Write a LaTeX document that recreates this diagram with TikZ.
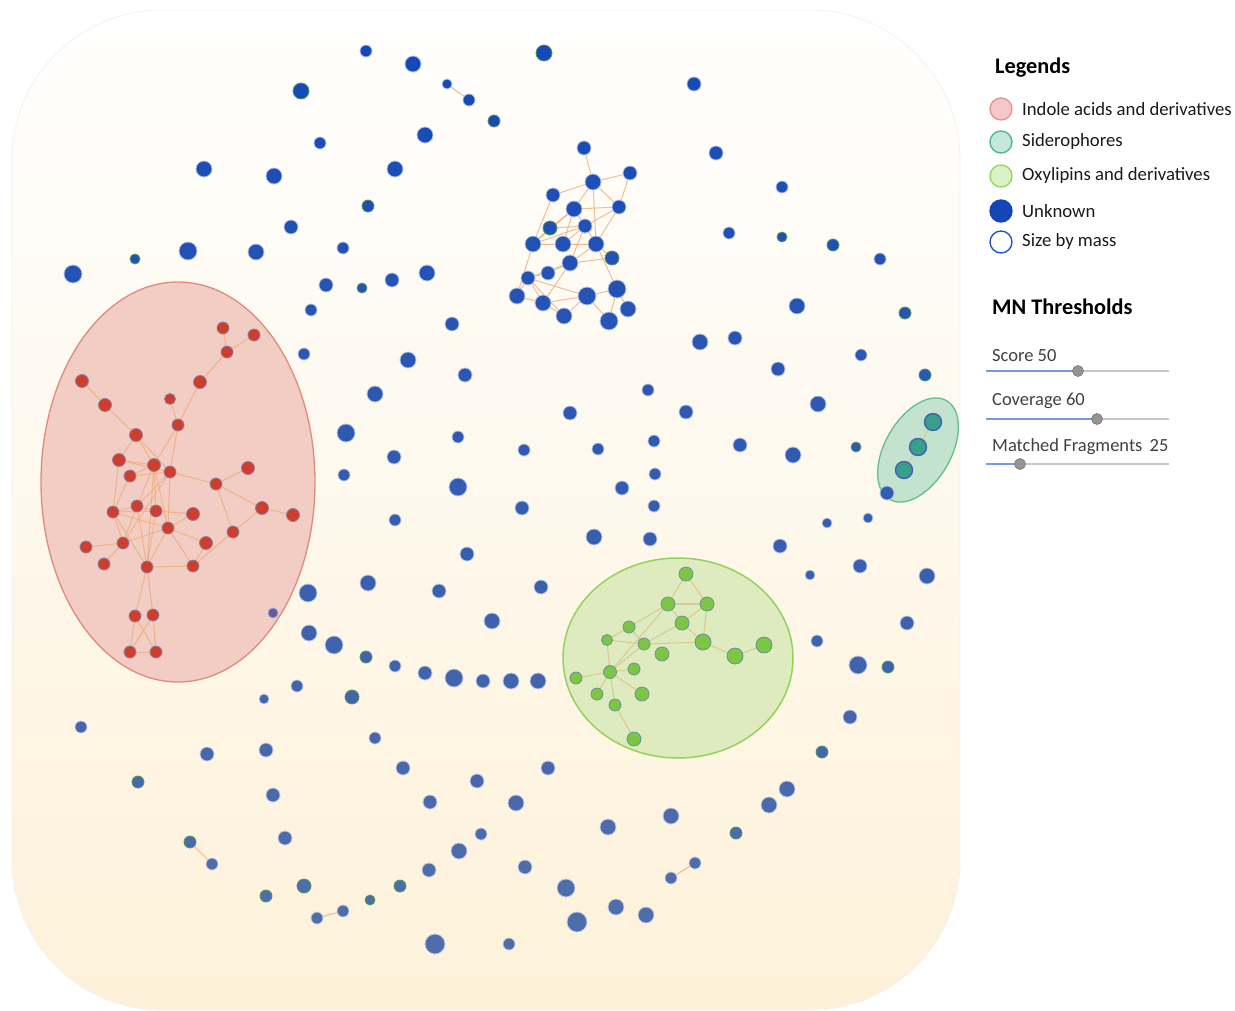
\documentclass[tikz,border=0pt]{standalone}
\usepackage{fontspec}
\setmainfont{Carlito}
\pgfdeclarelayer{bg}
\pgfdeclarelayer{edgelayer}
\pgfsetlayers{bg,edgelayer,main}
\definecolor{btop}{HTML}{1549B9}
\definecolor{bbot}{HTML}{4F6CAB}
\definecolor{rimg}{HTML}{4E9A52}
\definecolor{redfill}{HTML}{CF3E2C}
\definecolor{redrim}{HTML}{8E7FA5}
\definecolor{greenfill}{HTML}{7CC644}
\definecolor{greenrim}{HTML}{6A8FA0}
\definecolor{tealfill}{HTML}{3A9E8C}
\definecolor{tealrim}{HTML}{3E63AE}
\definecolor{bgtop}{HTML}{FFFFFF}
\definecolor{bgbot}{HTML}{FDF1D9}
\definecolor{edgeor}{HTML}{F0AE7C}
\definecolor{edgetan}{HTML}{D9C98E}
\definecolor{redell}{HTML}{F2CDC3}
\definecolor{redelldraw}{HTML}{E2887C}
\definecolor{grnell}{HTML}{DEEBBE}
\definecolor{grnelldraw}{HTML}{92D35B}
\definecolor{sidell}{HTML}{C4E3CF}
\definecolor{sidelldraw}{HTML}{5FC08E}
\definecolor{sliderblue}{HTML}{7898E2}
\tikzset{
  dot/.style={circle, inner sep=0pt, line width=0.8pt},
  rnode/.style={dot, fill=redfill, draw=redrim},
  gnode/.style={dot, fill=greenfill, draw=greenrim},
  snode/.style={dot, fill=tealfill, draw=tealrim, line width=1.4pt},
  redge/.style={draw=edgeor, line width=1pt, opacity=0.85},
  uedge/.style={draw=edgeor, line width=1pt, opacity=0.8},
  gedge/.style={draw=edgetan, line width=1.1pt, opacity=0.9},
  legtxt/.style={anchor=west, inner sep=0pt, font=\fontsize{18.7}{22}\selectfont, text=black!90},
  slidtxt/.style={anchor=west, inner sep=0pt, font=\fontsize{18.5}{22}\selectfont, text=black!75},
  legcirc/.style={circle, inner sep=0pt, minimum size=22pt, line width=1.4pt},
  knob/.style={circle, inner sep=0pt, minimum size=11pt, fill=black!42, draw=black!55, line width=0.6pt},
  title/.style={anchor=west, inner sep=0pt, font=\bfseries\fontsize{22.3}{26}\selectfont},
  bdot/.style={dot, fill=bbot!#1!btop, draw=bbot!#1!btop!35!white},
  bdotg/.style={dot, fill=bbot!#1!btop, draw=rimg}
}
\begin{document}
\begin{tikzpicture}[x=1pt,y=-1pt]
\useasboundingbox (0,0) rectangle (1235,1010);
\begin{pgfonlayer}{bg}
  \shade[top color=bgtop, bottom color=bgbot, rounded corners=150pt, draw=black!5, line width=0.8pt] (12,10) rectangle (960,1010);
  \draw[fill=redell, draw=redelldraw, line width=1.3pt] (178,482) ellipse [x radius=137, y radius=200];
  \draw[fill=grnell, draw=grnelldraw, line width=1.5pt] (678,658) ellipse [x radius=115, y radius=100];
  \begin{scope}[shift={(918,450)}, rotate=60]
    \draw[fill=sidell, draw=sidelldraw, line width=1.3pt] (0,0) ellipse [x radius=57, y radius=33];
  \end{scope}
\end{pgfonlayer}

% isolated / unknown nodes
\foreach \x/\y/\r/\g [count=\i] in {
366/51/6/0, 413/64/8/0, 544/53/8/1, 301/91/8/1, 494/121/6/1, 694/84/7/0,
320/143/6/0, 425/135/8/0, 204/169/8/0, 274/176/8/0, 395/169/8/0, 716/153/7/0,
368/206/6/1, 291/227/7/0, 782/187/6/0, 729/233/6/0, 782/237/5/1, 833/245/6/1,
880/259/6/0, 73/274/9/0, 135/259/5/1, 188/251/9/0, 256/252/8/0, 343/248/6/0,
326/285/7/0, 362/288/5/1, 392/280/7/0, 427/273/8/0, 311/310/6/0, 452/324/7/0,
797/306/8/0, 905/313/6/1, 700/342/8/0, 735/338/7/0, 861/355/6/0, 304/354/6/0,
408/360/8/0, 465/375/7/0, 925/375/6/1, 778/369/7/0, 648/390/6/0, 375/394/8/0,
686/412/7/0, 818/404/8/0, 570/413/7/0, 346/433/9/0, 458/437/6/0, 654/441/6/0,
740/445/7/0, 524/450/6/0, 598/449/6/0, 394/457/7/0, 793/455/8/0, 856/447/5/1,
344/475/6/0, 655/474/6/0, 458/487/9/0, 622/488/7/0, 395/520/6/0, 522/508/7/0,
654/506/6/0, 868/518/5/0, 827/523/5/0, 467/554/7/0, 594/537/8/0, 650/539/7/0,
780/546/7/0, 810/575/5/0, 860/566/7/0, 927/576/8/0, 308/593/9/0, 368/583/8/0,
439/591/7/0, 541/587/7/0, 492/621/8/0, 309/633/8/0, 334/645/9/0, 366/657/6/1,
395/666/6/0, 425/673/7/0, 454/678/9/0, 483/681/7/0, 511/681/8/0, 538/681/8/0,
907/623/7/0, 817/641/6/0, 858/665/9/0, 888/667/6/1, 297/686/6/0, 352/697/7/1,
264/699/5/0, 850/717/7/0, 81/727/6/0, 375/738/6/0, 207/754/7/0, 266/750/7/0,
403/768/7/0, 548/768/7/0, 822/752/6/1, 477/781/7/0, 138/782/6/1, 787/789/8/0,
769/805/8/0, 273/795/7/0, 430/802/7/0, 516/803/8/0, 671/816/8/0, 608/827/8/0,
736/833/6/1, 285/838/7/0, 481/834/6/0, 459/851/8/0, 525/867/7/0, 429/870/7/0,
566/888/9/0, 304/886/7/1, 400/886/6/1, 266/896/6/1, 370/900/5/1, 616/907/8/0,
646/915/8/0, 577/922/10/0, 435/944/10/0, 509/944/6/0, 887/493/7/0}{
  \pgfmathtruncatemacro\p{max(0,min(100,(\y-60)/8))}
  \pgfmathsetmacro\d{2*\r}
  \ifnum\g=1
    \node[bdotg=\p, minimum size=\d pt] (b\i) at (\x,\y) {};
  \else
    \node[bdot=\p, minimum size=\d pt] (b\i) at (\x,\y) {};
  \fi
}
% linked pairs of unknown nodes
\foreach \n/\x/\y/\r/\g in {pa1/447/84/5/0, pa2/469/100/6/0, pb1/190/842/6/1, pb2/212/864/6/0,
  pc1/695/863/6/0, pc2/671/878/6/0, pd1/343/911/6/0, pd2/317/918/6/0}{
  \pgfmathtruncatemacro\p{max(0,min(100,(\y-60)/8))}
  \pgfmathsetmacro\d{2*\r}
  \ifnum\g=1
    \node[bdotg=\p, minimum size=\d pt] (\n) at (\x,\y) {};
  \else
    \node[bdot=\p, minimum size=\d pt] (\n) at (\x,\y) {};
  \fi
}
% purple node at red ellipse edge
\node[dot, fill={rgb,255:red,95;green,95;blue,150}, draw=white!60!blue, minimum size=10pt] (pu) at (273,613) {};

% blue cluster
\foreach \n/\x/\y/\r/\g in {
u1/584/148/7/0, u2/630/173/7/0, u3/593/182/8/0, u4/553/195/7/0, u5/574/209/8/0,
u6/619/207/7/0, u7/550/228/7/1, u8/585/226/7/0, u9/533/244/8/0, u10/563/244/8/0,
u11/596/244/8/0, u12/612/258/7/1, u13/570/263/8/0, u14/548/273/7/0, u15/528/278/7/0,
u16/517/296/8/0, u17/543/303/8/0, u18/587/296/9/0, u19/617/289/9/0, u20/628/309/8/0,
u21/564/316/8/0, u22/609/321/9/0}{
  \pgfmathtruncatemacro\p{max(0,min(100,(\y-60)/8))}
  \pgfmathsetmacro\d{2*\r}
  \ifnum\g=1
    \node[bdotg=\p, minimum size=\d pt] (\n) at (\x,\y) {};
  \else
    \node[bdot=\p, minimum size=\d pt] (\n) at (\x,\y) {};
  \fi
}

% red cluster
\foreach \n/\x/\y/\r in {
r1/223/328/6, r2/254/335/6, r3/227/352/6, r4/200/382/6.5, r5/82/381/6.5, r6/105/405/6.5,
r7/170/399/5.5, r8/178/425/6, r9/136/435/6.5, r10/119/460/6.5, r11/154/465/6.5,
r12/130/476/6, r13/170/472/6, r14/248/468/6.5, r15/216/484/6, r16/262/508/6.5,
r17/293/515/6.5, r18/113/512/6, r19/137/506/6, r20/156/511/6, r21/193/514/6.5,
r22/168/528/6, r23/233/532/6, r24/206/543/6.5, r25/86/547/6, r26/123/543/6,
r27/104/564/6, r28/147/567/6, r29/193/566/6, r30/135/616/6, r31/153/615/6,
r32/130/652/6, r33/156/652/6}{
  \pgfmathsetmacro\d{2*\r}
  \node[rnode, minimum size=\d pt] (\n) at (\x,\y) {};
}

% green cluster
\foreach \n/\x/\y/\r in {
g1/686/574/7, g2/668/604/7, g3/707/604/7, g4/682/623/7, g5/629/627/6, g6/607/640/5.5,
g7/644/644/6, g8/662/654/7, g9/703/642/8, g10/735/656/8, g11/764/645/8, g12/610/672/6.5,
g13/634/669/6, g14/576/678/6, g15/597/694/6, g16/642/694/7, g17/615/705/6, g18/634/739/7}{
  \pgfmathsetmacro\d{2*\r}
  \node[gnode, minimum size=\d pt] (\n) at (\x,\y) {};
}

% siderophores
\node[snode, minimum size=17pt] (s1) at (933,422) {};
\node[snode, minimum size=17pt] (s2) at (918,447) {};
\node[snode, minimum size=17pt] (s3) at (904,470) {};

% legend
\node[title] (legt) at (995,68) {Legends};
\node[legcirc, fill={rgb,255:red,244;green,200;blue,200}, draw={rgb,255:red,232;green,146;blue,146}] (l1) at (1001,109) {};
\node[legcirc, fill={rgb,255:red,196;green,232;blue,220}, draw={rgb,255:red,78;green,184;blue,142}] (l2) at (1001,142) {};
\node[legcirc, fill={rgb,255:red,218;green,242;blue,196}, draw={rgb,255:red,146;green,216;blue,96}] (l3) at (1001,176) {};
\node[legcirc, fill={rgb,255:red,20;green,70;blue,184}, draw={rgb,255:red,20;green,70;blue,184}] (l4) at (1001,211) {};
\node[legcirc, fill=white, draw={rgb,255:red,34;green,85;blue,204}] (l5) at (1001,242) {};
\node[legtxt] (t1) at (1022,109) {Indole acids and derivatives};
\node[legtxt] (t2) at (1022,142) {Siderophores};
\node[legtxt] (t3) at (1022,176) {Oxylipins and derivatives};
\node[legtxt] (t4) at (1022,211) {Unknown};
\node[legtxt] (t5) at (1022,242) {Size by mass};

\node[title] (mnt) at (992,307) {MN Thresholds};
\node[slidtxt] (sc) at (992,356) {Score 50};
\node[slidtxt] (cv) at (992,401) {Coverage 60};
\node[slidtxt] (mf) at (992,447) {Matched Fragments\, 25};

\foreach \yy/\kx/\nm in {371/1078/ka, 419/1097/kb, 464/1020/kc}{
  \coordinate (\nm-start) at (986,\yy);
  \coordinate (\nm-end) at (1169,\yy);
  \node[knob] (\nm) at (\kx,\yy) {};
}

\begin{pgfonlayer}{edgelayer}
  \foreach \a/\b in {r1/r3, r2/r3, r3/r4, r4/r8, r7/r8, r5/r6, r6/r9, r9/r10, r9/r11, r9/r13,
    r8/r11, r8/r13, r10/r11, r10/r13, r10/r18, r12/r11, r12/r13, r12/r18, r11/r19, r11/r20,
    r11/r22, r11/r28, r13/r15, r13/r22, r13/r19, r13/r26, r15/r14, r15/r16, r15/r23, r16/r17,
    r16/r23, r23/r29, r18/r19, r18/r20, r18/r22, r18/r26, r18/r28, r19/r20, r19/r28, r19/r26,
    r20/r21, r20/r28, r22/r21, r22/r26, r22/r28, r22/r24, r22/r29, r26/r25, r26/r27, r28/r29,
    r28/r30, r28/r31, r29/r24, r30/r32, r30/r33, r31/r33, r31/r32, r32/r33}
    \draw[redge] (\a) -- (\b);
  \foreach \a/\b in {u1/u3, u3/u2, u2/u6, u3/u4, u3/u5, u3/u6, u3/u11, u4/u9, u5/u6, u5/u7,
    u5/u8, u5/u9, u5/u10, u6/u8, u6/u11, u7/u8, u7/u9, u8/u10, u8/u11, u8/u13, u8/u9, u9/u10,
    u9/u11, u10/u11, u11/u12, u11/u13, u13/u14, u13/u12, u13/u15, u14/u15, u15/u16, u15/u17,
    u16/u17, u16/u9, u17/u18, u17/u21, u17/u13, u18/u21, u18/u22, u18/u19, u18/u15, u19/u20,
    u19/u11, u22/u19, u21/u15}
    \draw[uedge] (\a) -- (\b);
  \foreach \a/\b in {g1/g2, g1/g3, g2/g3, g2/g4, g3/g4, g3/g9, g4/g9, g4/g7, g2/g5, g2/g12,
    g5/g6, g5/g7, g6/g7, g7/g9, g7/g12, g6/g12, g9/g10, g10/g11, g12/g14, g12/g13, g12/g15,
    g12/g16, g12/g17, g17/g18}
    \draw[gedge] (\a) -- (\b);
  \draw[gedge] (s1) -- (s2);
  \draw[gedge] (s2) -- (s3);
  \foreach \a/\b in {pa1/pa2, pb1/pb2, pc1/pc2, pd1/pd2}
    \draw[redge] (\a) -- (\b);
  \foreach \nm in {ka, kb, kc}{
    \draw[black!22, line width=1.2pt] (\nm.center) -- (\nm-end);
    \draw[sliderblue, line width=1.2pt] (\nm-start) -- (\nm.center);
  }
\end{pgfonlayer}
\end{tikzpicture}
\end{document}
